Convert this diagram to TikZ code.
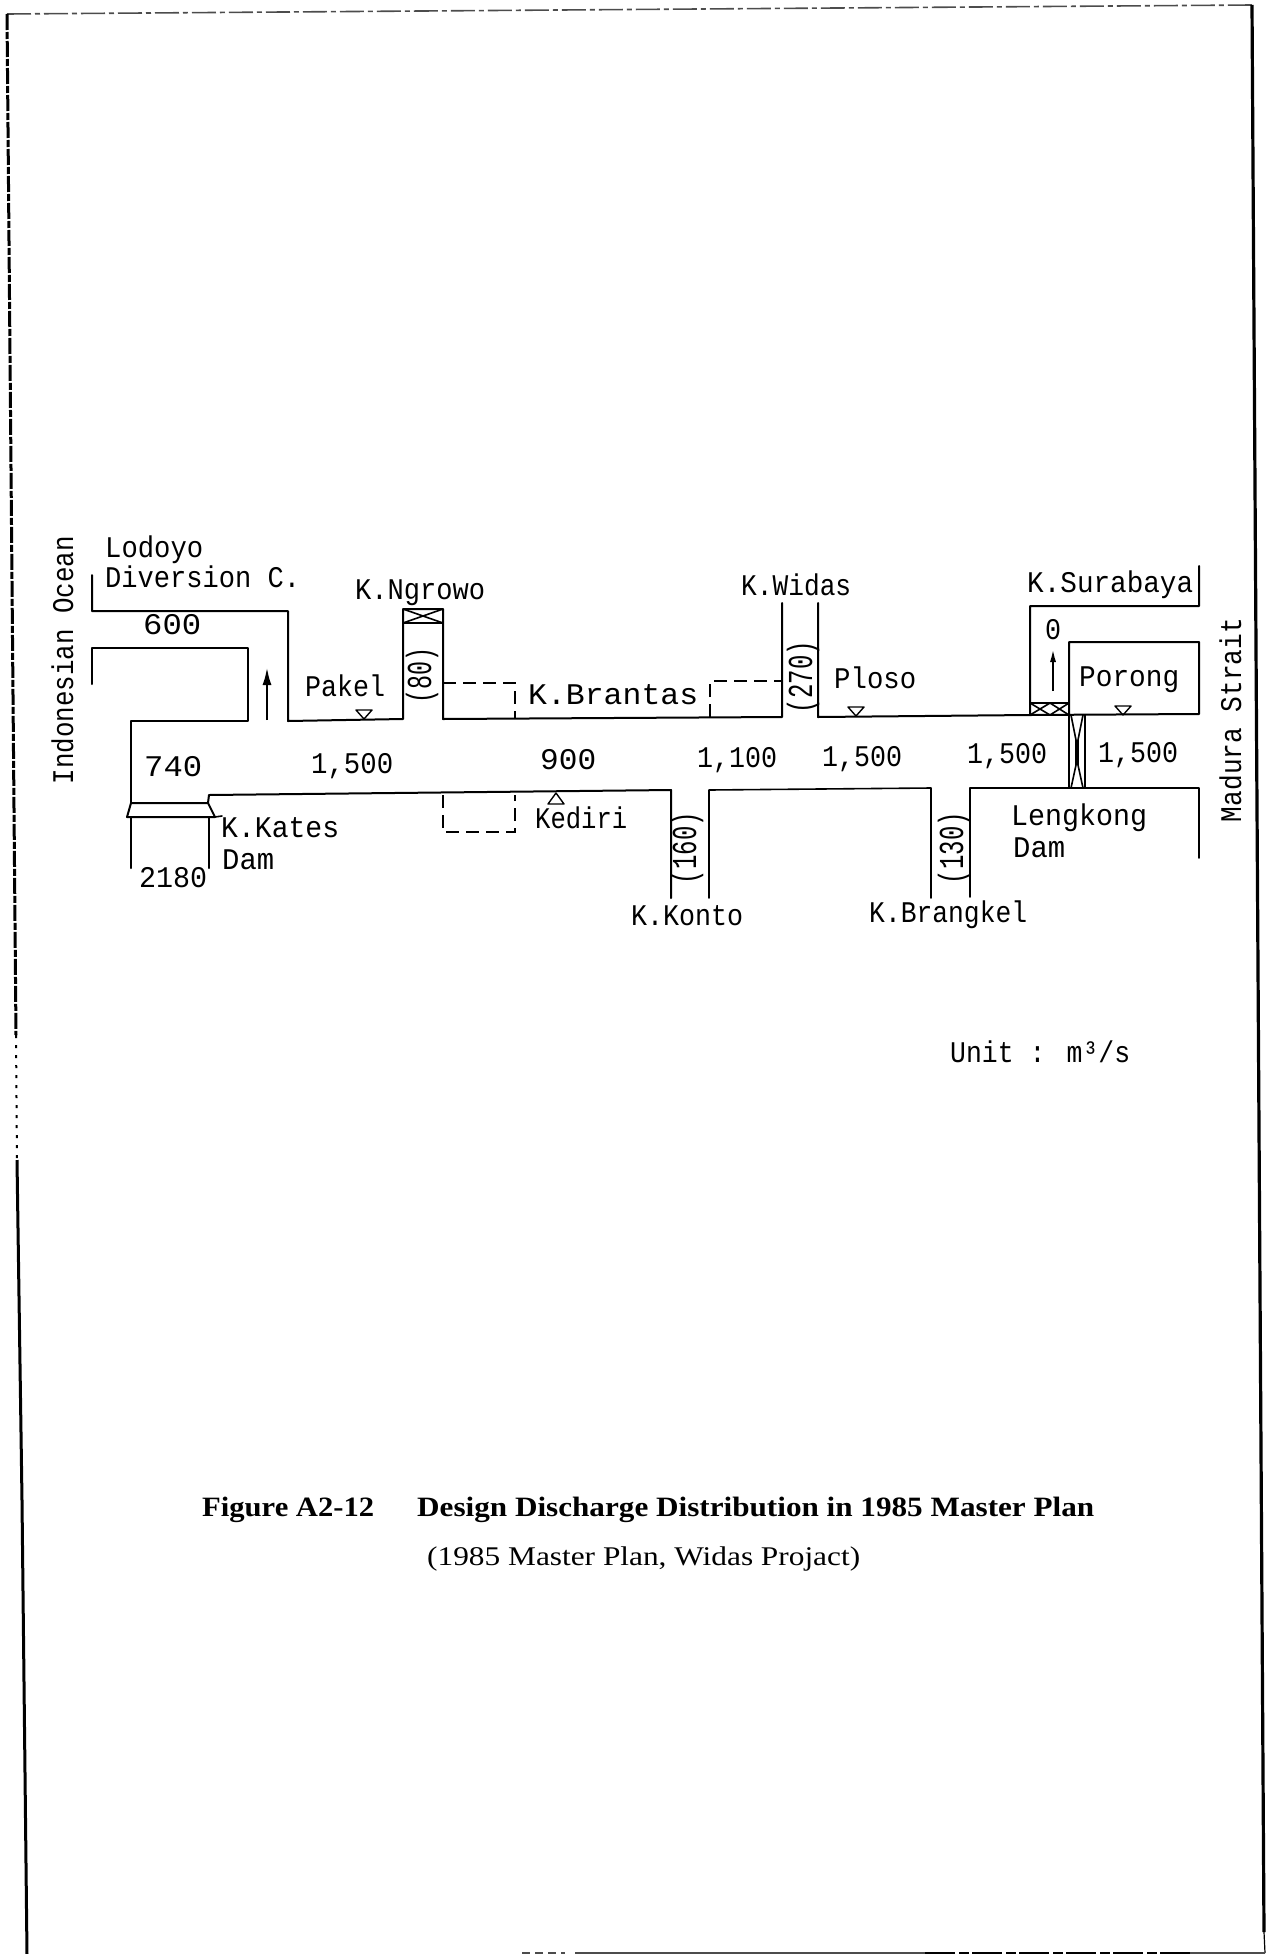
\documentclass[tikz,border=0pt]{standalone}
\usepackage{fontspec}
\usepackage{graphicx}
\setmainfont{Liberation Serif}
\newfontfamily\labfont{Liberation Mono}
\usetikzlibrary{arrows.meta}
\newlength{\fitlen}
\newcommand{\fitw}[2]{\settowidth{\fitlen}{#2}\pgfmathsetmacro{\fitsx}{#1/(\fitlen/1pt)}\scalebox{\fitsx}[1]{#2}}
\tikzset{
  wall/.style={line width=2pt,line join=round,line cap=round,black},
  thin wall/.style={line width=1.6pt,line join=round,line cap=round,black},
  tribs/.style={line width=1.6pt,dash pattern=on 13pt off 7pt,black},
  lab/.style={font=\labfont\fontsize{30}{30}\selectfont,inner sep=0pt,anchor=base west,text=black},
  vlab/.style={font=\labfont\fontsize{30}{30}\selectfont,inner sep=0pt,anchor=base,rotate=90,text=black},
  chan/.style={font=\labfont\fontsize{35}{35}\selectfont,inner sep=0pt,anchor=base,rotate=90,text=black},
  level/.style={line width=1.4pt,line join=round,black},
  flowarrow/.style={line width=2.6pt,-{Latex[length=18pt,width=9pt]},black},
  capbold/.style={font=\bfseries\fontsize{28}{28}\selectfont,inner sep=0pt,anchor=base west,text=black},
  capreg/.style={font=\fontsize{27}{27}\selectfont,inner sep=0pt,anchor=base west,text=black}
}
\begin{document}
\begin{tikzpicture}[x=1pt,y=-1pt]
\useasboundingbox (0,0) rectangle (1267,1954);
% page frame
\draw[line width=1.6pt,dash pattern=on 24pt off 4pt on 5pt off 4pt,black!70] (7,14) -- (1252,5);
\draw[line width=3pt,dash pattern=on 16pt off 2pt on 7pt off 2pt] (7,14) -- (16,1035);
\draw[line width=2pt,dash pattern=on 3pt off 7pt] (16,1035) -- (17,1160);
\draw[line width=3pt] (17,1160) -- (22,1500) -- (27,1954);
\draw[line width=3.2pt] (1252,5) -- (1264,1932);
\draw[line width=1.2pt] (1264,1932) -- (1265,1953);
\draw[line width=1.2pt,black!70] (575,1953) -- (925,1953);
\draw[line width=1.2pt,black!70,dash pattern=on 8pt off 5pt] (522,1953) -- (565,1953);
\draw[line width=2pt,dash pattern=on 30pt off 4pt on 10pt off 3pt] (925,1953) -- (1190,1953);
\draw[line width=1.2pt,black!70] (1190,1953) -- (1265,1953);
% upper bank
\draw[wall] (92,575) -- (92,611) -- (288,611) -- (288,721) -- (403,719) -- (403,609) -- (443,609) -- (443,719) -- (782,717) -- (782,603);
\draw[wall] (818,603) -- (818,717) -- (1030,715) -- (1030,606) -- (1199,606) -- (1199,566);
\draw[wall] (1069,715) -- (1069,642) -- (1199,642) -- (1199,714) -- (1030,715);
% lower bank
\draw[wall] (92,684) -- (92,648) -- (248,648) -- (248,721) -- (131,721) -- (131,803);
\draw[wall] (131,817) -- (131,868);
\draw[wall] (209,817) -- (209,868);
\draw[wall] (208,803) -- (209,795) -- (671,790) -- (671,898);
\draw[thin wall] (709,898) -- (709,790) -- (931,788) -- (931,898);
\draw[thin wall] (970,897) -- (970,788) -- (1199,788) -- (1199,858);
% Kates dam
\draw[wall] (131,803) -- (208,803) -- (215,817) -- (127,817) -- cycle;
\draw[thin wall] (215,817) -- (222,816);
% gates
\draw[thin wall] (403,623) -- (443,623);
\draw[thin wall] (403,609) -- (443,623) (443,609) -- (403,623);
\draw[thin wall] (1030,703) -- (1069,703);
\draw[thin wall] (1030,715) -- (1050,703) -- (1069,715) (1030,703) -- (1050,715) -- (1069,703);
% Lengkong dam
\draw[thin wall] (1069,715) -- (1069,788) (1085,715) -- (1085,788);
\draw[thin wall] (1071,715) -- (1076,740) -- (1076,765) -- (1071,788);
\draw[thin wall] (1083,715) -- (1078,740) -- (1078,765) -- (1083,788);
% dashed retention areas
\draw[tribs] (443,683) -- (515,683) -- (515,719);
\draw[tribs] (443,795) -- (443,832) -- (515,832) -- (515,795);
\draw[tribs] (710,717) -- (710,681) -- (782,681);
% water level marks
\draw[level] (356,710) -- (372,710) -- (364,719) -- cycle;
\draw[level] (848,707) -- (864,707) -- (856,716) -- cycle;
\draw[level] (1115,706) -- (1131,706) -- (1123,715) -- cycle;
\draw[level] (556,793) -- (564,804) -- (548,804) -- cycle;
% flow arrows
\coordinate (a1s) at (267,720); \coordinate (a1e) at (267,667);
\coordinate (a2s) at (1053,691); \coordinate (a2e) at (1053,648);
\draw[flowarrow] (a1s) -- (a1e);
\draw[line width=2.2pt,-{Latex[length=14pt,width=6pt]}] (a2s) -- (a2e);
% labels
\node[lab] (lodoyo) at (105,557) {\fitw{98}{Lodoyo}};
\node[lab] (divc) at (105,587) {\fitw{195}{Diversion C.}};
\node[lab] (q600) at (143,634) {\fitw{58}{600}};
\node[lab] (ngrowo) at (355,599) {\fitw{130}{K.Ngrowo}};
\node[lab] (pakel) at (305,696) {\fitw{80}{Pakel}};
\node[lab] (q740) at (144,776) {\fitw{58}{740}};
\node[lab] (q1500a) at (311,773) {\fitw{82}{1,500}};
\node[lab] (kates) at (221,837) {\fitw{118}{K.Kates}};
\node[lab] (kdam) at (222,869) {\fitw{52}{Dam}};
\node[lab] (q2180) at (139,887) {\fitw{68}{2180}};
\node[lab] (brantas) at (528,704) {\fitw{170}{K.Brantas}};
\node[lab] (q900) at (540,769) {\fitw{56}{900}};
\node[lab] (kediri) at (535,828) {\fitw{92}{Kediri}};
\node[lab] (widas) at (741,595) {\fitw{110}{K.Widas}};
\node[lab] (surabaya) at (1027,592) {\fitw{166}{K.Surabaya}};
\node[lab] (ploso) at (834,688) {\fitw{82}{Ploso}};
\node[lab] (porong) at (1079,686) {\fitw{100}{Porong}};
\node[lab] (q0) at (1045,639) {\fitw{16}{0}};
\node[lab] (q1100) at (697,767) {\fitw{80}{1,100}};
\node[lab] (q1500b) at (822,766) {\fitw{80}{1,500}};
\node[lab] (q1500c) at (967,763) {\fitw{80}{1,500}};
\node[lab] (q1500d) at (1098,762) {\fitw{80}{1,500}};
\node[lab] (lengkong) at (1011,825) {\fitw{136}{Lengkong}};
\node[lab] (ldam) at (1013,857) {\fitw{52}{Dam}};
\node[lab] (konto) at (631,925) {\fitw{112}{K.Konto}};
\node[lab] (brangkel) at (869,922) {\fitw{158}{K.Brangkel}};
\node[lab] (unit) at (950,1062) {\fitw{180}{Unit : m³/s}};
% rotated labels
\node[vlab] (ocean) at (73,660) {\fitw{248}{Indonesian Ocean}};
\node[vlab] (strait) at (1241,720) {\fitw{204}{Madura Strait}};
\node[chan] (q80) at (431,675) {\fitw{56}{(80)}};
\node[chan] (q270) at (812,677) {\fitw{72}{(270)}};
\node[chan] (q160) at (696,848) {\fitw{72}{(160)}};
\node[chan] (q130) at (963,848) {\fitw{72}{(130)}};
% caption
\node[capbold] (figno) at (202,1516) {\fitw{172}{Figure A2-12}};
\node[capbold] (figtitle) at (417,1516) {\fitw{677}{Design Discharge Distribution in 1985 Master Plan}};
\node[capreg] (figsub) at (427,1565) {\fitw{433}{(1985 Master Plan, Widas Projact)}};
\end{tikzpicture}
\end{document}
